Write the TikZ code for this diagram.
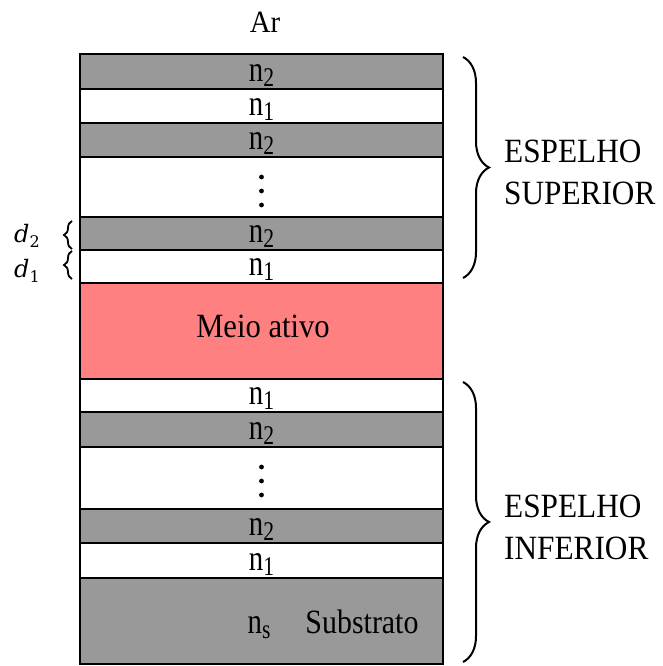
\documentclass[tikz,border=0pt]{standalone}
\usepackage{fontspec}
\setmainfont{Liberation Serif}
\newfontfamily\thickfont{DejaVu Serif}
\usetikzlibrary{decorations.pathreplacing}

\definecolor{layergray}{HTML}{999999}
\definecolor{activered}{HTML}{FF8080}

% refractive index label: n with a lowered subscript
\newcommand{\nidx}[1]{n\raisebox{-5pt}{\fontsize{27}{27}\selectfont #1}}
% thickness symbol d with subscript
\newcommand{\dsym}[1]{{\thickfont\itshape\fontsize{24}{24}\selectfont d}\raisebox{-5pt}{\thickfont\fontsize{16}{16}\selectfont #1}}

\tikzset{
  layer/.style={draw=black, line width=2.6pt, minimum width=363pt,
                inner sep=0pt, outer sep=0pt, anchor=north},
  hi/.style={layer, fill=layergray},
  lo/.style={layer, fill=white},
  idxlabel/.style={anchor=base, inner sep=0pt,
                   font=\fontsize{36}{36}\selectfont, xscale=0.8},
  sidetext/.style={anchor=west, align=left, inner sep=0pt,
                   font=\fontsize{34}{42}\selectfont, xscale=0.92},
  bigbrace/.style={decorate, decoration={brace, amplitude=26pt}, line width=2pt},
  smallbrace/.style={decorate, decoration={brace, amplitude=8pt}, line width=1.8pt},
  dlabel/.style={inner sep=0pt, anchor=base},
}

\begin{document}
\begin{tikzpicture}[x=1pt,y=-1pt]
\useasboundingbox (0,0) rectangle (662,666);
\fill[white] (0,0) rectangle (662,666);

% upper mirror
\node[hi, minimum height=35pt] (L1) at (261.5,54) {};
\node[lo, minimum height=34pt] (L2) at (L1.south) {};
\node[hi, minimum height=34pt] (L3) at (L2.south) {};
\node[lo, minimum height=60pt] (L4) at (L3.south) {};
\node[hi, minimum height=33pt] (L5) at (L4.south) {};
\node[lo, minimum height=33pt] (L6) at (L5.south) {};
% active region
\node[layer, fill=activered, minimum height=96pt] (L7) at (L6.south) {};
% lower mirror
\node[lo, minimum height=33pt] (L8) at (L7.south) {};
\node[hi, minimum height=35pt] (L9) at (L8.south) {};
\node[lo, minimum height=62pt] (L10) at (L9.south) {};
\node[hi, minimum height=34pt] (L11) at (L10.south) {};
\node[lo, minimum height=35pt] (L12) at (L11.south) {};
% substrate
\node[hi, minimum height=86pt] (L13) at (L12.south) {};

% layer labels
\node[idxlabel] (t1) at ([yshift=7.5pt]L1.south) {\nidx{2}};
\node[idxlabel] (t2) at ([yshift=7.5pt]L2.south) {\nidx{1}};
\node[idxlabel] (t3) at ([yshift=7.5pt]L3.south) {\nidx{2}};
\node[idxlabel] (t5) at ([yshift=7.5pt]L5.south) {\nidx{2}};
\node[idxlabel] (t6) at ([yshift=7.5pt]L6.south) {\nidx{1}};
\node[idxlabel] (t8) at ([yshift=7.5pt]L8.south) {\nidx{1}};
\node[idxlabel] (t9) at ([yshift=7.5pt]L9.south) {\nidx{2}};
\node[idxlabel] (t11) at ([yshift=7.5pt]L11.south) {\nidx{2}};
\node[idxlabel] (t12) at ([yshift=7.5pt]L12.south) {\nidx{1}};

% repetition dots
\foreach \d in {-4,-18,10} {
  \fill ([yshift=\d pt]L4.center) circle (2.4pt);
  \fill ([yshift=\d pt+1pt]L10.center) circle (2.4pt);
}

% title and inner texts
\node[inner sep=0pt, anchor=base, font=\fontsize{31}{31}\selectfont, xscale=0.93] (air) at (265,33) {Ar};
\node[inner sep=0pt, anchor=base, font=\fontsize{34}{34}\selectfont, xscale=0.9] (active) at (263,337) {Meio ativo};
\node[idxlabel] (ns) at (259,633) {\nidx{s}};
\node[inner sep=0pt, anchor=base, font=\fontsize{34}{34}\selectfont, xscale=0.88] (sub) at (362,633) {Substrato};

% mirror braces
\draw[bigbrace] ([xshift=20pt,yshift=-3pt]L1.north east) -- ([xshift=20pt,yshift=5pt]L6.south east);
\draw[bigbrace] ([xshift=20pt,yshift=-3pt]L8.north east) -- ([xshift=20pt,yshift=2pt]L13.south east);
\node[sidetext] (top) at (504,172) {ESPELHO\\SUPERIOR};
\node[sidetext] (bot) at (504,527) {ESPELHO\\INFERIOR};

% layer thicknesses
\draw[smallbrace] ([xshift=-8pt,yshift=1pt]L5.south west) -- ([xshift=-8pt,yshift=-4pt]L5.north west);
\draw[smallbrace] ([xshift=-8pt,yshift=4pt]L6.south west) -- ([xshift=-8pt,yshift=-1pt]L6.north west);
\node[dlabel] (d2) at (27,242) {\dsym{2}};
\node[dlabel] (d1) at (27,277) {\dsym{1}};
\end{tikzpicture}
\end{document}
